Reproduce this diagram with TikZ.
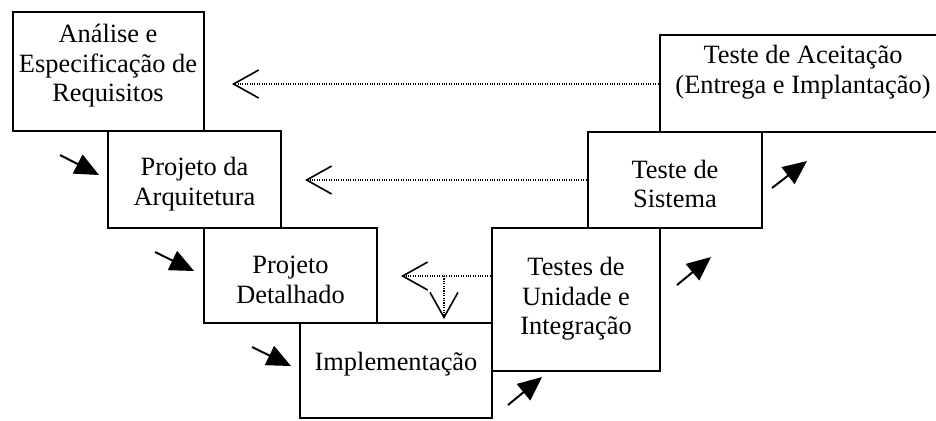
\documentclass[tikz,border=0pt]{standalone}
\usepackage{fontspec}
\setmainfont{Liberation Serif}
\usetikzlibrary{arrows.meta}
\begin{document}
\begin{tikzpicture}[x=0.5pt,y=-0.5pt,
  box/.style={draw,line width=1.4pt,fill=white,inner sep=0pt,rectangle},
  lbl/.style={align=center,font=\fontsize{13.2}{14.8}\selectfont,inner sep=0pt},
  back/.style={line width=0.7pt,dash pattern=on 0.55pt off 0.65pt,
    -{Straight Barb[length=12.5pt,width=14pt,line width=0.8pt]}},
  fwd/.style={line width=1pt,-{Triangle[length=12pt,width=10.5pt]}}
]
\useasboundingbox (0,0) rectangle (936,420);
% boxes
\node[box,minimum width=95.5pt,minimum height=59.5pt] (b1) at (108.5,71.5) {};
\node[box,minimum width=86.5pt,minimum height=48.5pt] (b2) at (194.5,179.5) {};
\node[box,minimum width=86.5pt,minimum height=47.5pt] (b3) at (290.5,275.5) {};
\node[box,minimum width=96pt,minimum height=47.5pt] (b4) at (396,370.5) {};
\node[box,minimum width=84pt,minimum height=71.5pt] (b5) at (576,299.5) {};
\node[box,minimum width=87pt,minimum height=48pt] (b6) at (675,180) {};
\node[box,minimum width=143pt,minimum height=48.5pt] (b7) at (803,83.5) {};
% labels
\node[lbl] (t1) at (108,66) {Análise e\\Especificação de\\Requisitos};
\node[lbl] (t2) at (194.5,184) {Projeto da\\Arquitetura};
\node[lbl] (t3) at (290.5,280) {Projeto\\Detalhado};
\node[lbl] (t4) at (396,364) {Implementação};
\node[lbl] (t5) at (576,299) {Testes de\\Unidade e\\Integração};
\node[lbl] (t6) at (675,184) {Teste de\\Sistema};
\node[lbl] (t7) at (803,72) {Teste de Aceitação\\(Entrega e Implantação)};
% feedback (dotted) arrows
\coordinate (e1) at (232,84);
\coordinate (e2) at (305,180);
\coordinate (e3) at (401,276);
\coordinate (s3) at (444,276);
\coordinate (e4) at (444,319);
\draw[back] (b7.west |- e1) -- (e1);
\draw[back] (b6.west |- e2) -- (e2);
\draw[back] (b5.west |- e3) -- (e3);
\draw[back] (s3) -- (e4);
% forward arrows
\coordinate (a1s) at (60,155);  \coordinate (a1e) at (99,175);
\coordinate (a2s) at (155,252); \coordinate (a2e) at (194,271);
\coordinate (a3s) at (252,347); \coordinate (a3e) at (291,366);
\coordinate (a4s) at (508,405); \coordinate (a4e) at (542,377);
\coordinate (a5s) at (677,285); \coordinate (a5e) at (711,257);
\coordinate (a6s) at (772,188); \coordinate (a6e) at (807,161);
\draw[fwd] (a1s) -- (a1e);
\draw[fwd] (a2s) -- (a2e);
\draw[fwd] (a3s) -- (a3e);
\draw[fwd] (a4s) -- (a4e);
\draw[fwd] (a5s) -- (a5e);
\draw[fwd] (a6s) -- (a6e);
\end{tikzpicture}
\end{document}
